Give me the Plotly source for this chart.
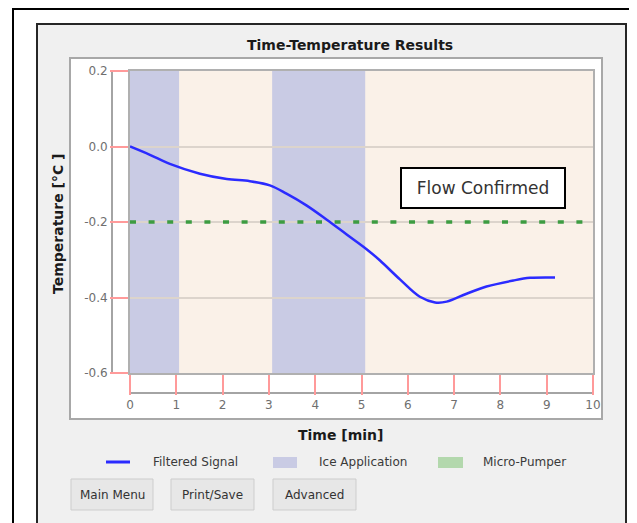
import plotly.graph_objects as go

# ---------------- data ----------------
time_min = [0, 0.43, 0.86, 1.51, 2.09, 2.59, 3.02, 3.38, 3.81, 4.25, 4.68, 5.11,
            5.40, 5.83, 6.26, 6.59, 6.84, 7.27, 7.70, 8.28, 8.64, 9.18]
filtered_signal = [0, -0.022, -0.046, -0.072, -0.086, -0.092, -0.103, -0.125, -0.156,
                   -0.194, -0.233, -0.272, -0.302, -0.352, -0.398, -0.413, -0.411,
                   -0.390, -0.371, -0.355, -0.348, -0.347]
ice_start = [0.0, 3.07]
ice_end = [1.06, 5.08]
pumper_x = [0, 10]
pumper_level = [-0.2, -0.2]
x_ticks = [0, 1, 2, 3, 4, 5, 6, 7, 8, 9, 10]
y_ticks = [-0.6, -0.4, -0.2, 0.0, 0.2]
y_tick_labels = ["-0.6", "-0.4", "-0.2", "0.0", "0.2"]
legend_names = ["Filtered Signal", "Ice Application", "Micro-Pumper"]
button_labels = ["Main Menu", "Print/Save", "Advanced"]

# ---------------- layout helpers (page pixel -> paper) ----------------
OFF = 8                      # default body margin of the html page
W, H = 637 - OFF, 523 - OFF
L, R, T, B = 130 - OFF, 44, 71 - OFF, 150
PW, PH = W - L - R, H - T - B


def px(x):
    return (x - OFF - L) / PW


def py(y):
    return (H - B - (y - OFF)) / PH


FONT = "DejaVu Sans"
ICE_COL = "#c9cbe4"
BEIGE = "#faf1e8"
BLUE = "#2b2bff"
GREEN = "#3d9c41"
TICK_COL = "#6f6f6f"

fig = go.Figure()

fig.add_trace(go.Scatter(
    x=pumper_x, y=pumper_level, mode="lines", name="Micro-Pumper",
    line=dict(color=GREEN, width=3.5, dash="6px,12.6px"), showlegend=False,
    hoverinfo="skip"))

fig.add_trace(go.Scatter(
    x=time_min, y=filtered_signal, mode="lines", name="Filtered Signal",
    line=dict(color=BLUE, width=2.5, shape="spline", smoothing=1.0),
    showlegend=False))

shapes = []
# outer window frame
shapes.append(dict(type="rect", xref="paper", yref="paper", layer="below",
                   x0=px(13), x1=px(660), y0=py(9), y1=py(560),
                   line=dict(color="black", width=2), fillcolor="white"))
# inner grey panel
shapes.append(dict(type="rect", xref="paper", yref="paper", layer="below",
                   x0=px(37), x1=px(626), y0=py(24), y1=py(560),
                   line=dict(color="#262626", width=2), fillcolor="#f0f0f0"))
# plot frame
shapes.append(dict(type="rect", xref="paper", yref="paper", layer="below",
                   x0=px(70), x1=px(602), y0=py(58), y1=py(419),
                   line=dict(color="#a8a8a8", width=2), fillcolor="white"))
# detached axis lines
shapes.append(dict(type="line", xref="paper", yref="paper", layer="below",
                   x0=px(112), x1=px(112), y0=py(71), y1=py(374),
                   line=dict(color="#a4a4a4", width=2)))
shapes.append(dict(type="line", xref="paper", yref="paper", layer="below",
                   x0=px(129), x1=px(594), y0=py(393), y1=py(393),
                   line=dict(color="#a4a4a4", width=2)))
# plot background and ice application bands
shapes.append(dict(type="rect", xref="x", yref="y", layer="below",
                   x0=0, x1=10, y0=-0.6, y1=0.2,
                   line=dict(width=0), fillcolor=BEIGE))
for s, e in zip(ice_start, ice_end):
    shapes.append(dict(type="rect", xref="x", yref="y", layer="below",
                       x0=s, x1=e, y0=-0.6, y1=0.2,
                       line=dict(width=0), fillcolor=ICE_COL))

# manual legend
LEG_Y = 462
shapes.append(dict(type="line", xref="paper", yref="paper",
                   x0=px(106), x1=px(130), y0=py(LEG_Y), y1=py(LEG_Y),
                   line=dict(color=BLUE, width=3)))
shapes.append(dict(type="rect", xref="paper", yref="paper",
                   x0=px(273), x1=px(297), y0=py(457), y1=py(468),
                   line=dict(width=0), fillcolor=ICE_COL))
shapes.append(dict(type="rect", xref="paper", yref="paper",
                   x0=px(438), x1=px(463), y0=py(457), y1=py(468),
                   line=dict(width=0), fillcolor="#b3d8ad"))

annotations = []
for name, x0 in zip(legend_names, [151, 317, 481]):
    annotations.append(dict(xref="paper", yref="paper", x=px(x0), y=py(LEG_Y),
                            text=name, showarrow=False, xanchor="left", yanchor="middle",
                            font=dict(family=FONT, size=12, color="#3a3a3a")))

# buttons
for label, (bx0, bx1) in zip(button_labels, [(71, 153), (171, 254), (273, 356)]):
    shapes.append(dict(type="rect", xref="paper", yref="paper",
                       x0=px(bx0), x1=px(bx1), y0=py(479), y1=py(510),
                       line=dict(color="#cdcdcd", width=1), fillcolor="#e7e7e7"))
    annotations.append(dict(xref="paper", yref="paper", x=px((bx0 + bx1) / 2), y=py(494.5),
                            text=label, showarrow=False, xanchor="center", yanchor="middle",
                            font=dict(family=FONT, size=12, color="#333333")))

# titles
annotations.append(dict(xref="paper", yref="paper", x=px(350), y=py(45),
                        text="<b>Time-Temperature Results</b>", showarrow=False,
                        xanchor="center", yanchor="middle",
                        font=dict(family=FONT, size=14, color="#1a1a1a")))
annotations.append(dict(xref="paper", yref="paper", x=px(340), y=py(435),
                        text="<b>Time [min]</b>", showarrow=False,
                        xanchor="center", yanchor="middle",
                        font=dict(family=FONT, size=14, color="#1a1a1a")))
annotations.append(dict(xref="paper", yref="paper", x=px(58), y=py(224),
                        text="<b>Temperature [°C ]</b>", showarrow=False, textangle=-90,
                        xanchor="center", yanchor="middle",
                        font=dict(family=FONT, size=14, color="#1a1a1a")))
# Flow confirmed box
annotations.append(dict(xref="paper", yref="paper", x=px(483), y=py(188),
                        text="Flow Confirmed", showarrow=False,
                        xanchor="center", yanchor="middle",
                        width=158, height=34, borderpad=2, borderwidth=2,
                        bordercolor="black", bgcolor="white",
                        font=dict(family=FONT, size=17, color="#333333")))

fig.update_layout(
    width=W, height=H,
    margin=dict(l=L, r=R, t=T, b=B, pad=0),
    paper_bgcolor="white",
    plot_bgcolor=BEIGE,
    showlegend=False,
    shapes=shapes,
    annotations=annotations,
    font=dict(family=FONT, size=12, color=TICK_COL),
    xaxis=dict(range=[0, 10], tickvals=x_ticks, ticks="outside", ticklen=20,
               tickwidth=2, tickcolor="#ff9a9a", showline=True, mirror=True,
               linecolor="#b0b0b0", linewidth=2, showgrid=False, zeroline=False,
               tickfont=dict(family=FONT, size=12, color=TICK_COL), fixedrange=True),
    yaxis=dict(range=[-0.6, 0.2], tickvals=y_ticks, ticktext=y_tick_labels,
               ticks="outside", ticklen=18, tickwidth=2, tickcolor="#ff9a9a",
               showline=True, mirror=True, linecolor="#b0b0b0", linewidth=2,
               showgrid=True, gridcolor="#dcd4cc", gridwidth=2, zeroline=False,
               tickfont=dict(family=FONT, size=12, color=TICK_COL), fixedrange=True),
)

fig.write_html("out.html")
